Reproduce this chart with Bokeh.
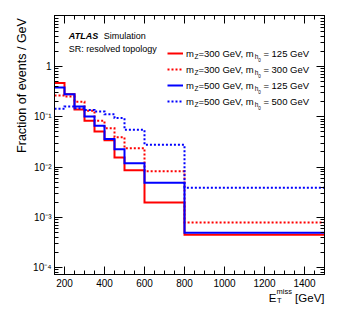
import math
from bokeh.plotting import figure
from bokeh.layouts import row, column
from bokeh.models import (Range1d, FixedTicker, LinearAxis, LogAxis, Label,
                          Legend, LegendItem)
from bokeh.embed import file_html
from bokeh.resources import INLINE

# ---------------- data ----------------
bin_edges = [150, 200, 250, 300, 350, 400, 450, 500, 600, 800, 1500]
frac_mz300_mh125 = [0.47, 0.28, 0.139, 0.083, 0.051, 0.034, 0.0154, 0.0086, 0.00197, 0.00045]
frac_mz300_mh300 = [0.265, 0.253, 0.20, 0.131, 0.083, 0.059, 0.039, 0.0237, 0.0082, 0.00079]
frac_mz500_mh125 = [0.38, 0.28, 0.16, 0.101, 0.066, 0.036, 0.0226, 0.0119, 0.00485, 0.00049]
frac_mz500_mh500 = [0.144, 0.16, 0.148, 0.137, 0.127, 0.112, 0.094, 0.055, 0.0277, 0.00385]

mz_values = ["300", "300", "500", "500"]
mh_values = ["125", "300", "125", "500"]
series_colors = ["#ff0000", "#ff0000", "#0000ff", "#0000ff"]
series_dash = ["solid", "2 2", "solid", "2 2"]
series_values = [frac_mz300_mh125, frac_mz300_mh300, frac_mz500_mh125, frac_mz500_mh500]

x_ticks = [200, 400, 600, 800, 1000, 1200, 1400]
y_ticks = [1e-4, 1e-3, 1e-2, 1e-1, 1]
y_tick_labels = ["10\u207b\u2074", "10\u207b\u00b3", "10\u207b\u00b2", "10\u207b\u00b9", "1"]

FONT = "Liberation Sans"

# Arial / Liberation Sans advance widths (per 1000 em)
W = {' ': 278, ',': 278, '=': 584, '0': 556, '1': 556, '2': 556, '3': 556, '4': 556,
     '5': 556, '6': 556, '7': 556, '8': 556, '9': 556, 'G': 778, 'e': 556, 'V': 667,
     'm': 833, 'Z': 611, 'h': 556, '[': 278, ']': 278, 'E': 667, 'T': 611, 'i': 222,
     's': 500}


def tw(s, size):
    return sum(W.get(c, 556) for c in s) * size / 1000.0


def no_frame_align(f):
    try:
        f.frame_align = False
    except AttributeError:
        pass


# ---------------- layout sizes ----------------
YF_W = 28          # left strip holding the y-axis title
P_W, P_H = 307, 292
XF_H, XF_OVER = 38, 10
TOTAL_H = P_H + XF_H - XF_OVER

p = figure(width=P_W, height=P_H,
           x_range=Range1d(150, 1500), y_range=Range1d(7.26e-5, 10.35),
           y_axis_type="log", output_backend="svg", toolbar_location=None,
           min_border_left=26, min_border_right=11, min_border_top=15, min_border_bottom=18)
no_frame_align(p)
p.xgrid.visible = False
p.ygrid.visible = False
p.outline_line_color = "black"
p.outline_line_width = 1
p.background_fill_color = "white"
p.border_fill_color = "white"

renderers = []
for vals, col, dash in zip(series_values, series_colors, series_dash):
    r = p.step(x=bin_edges, y=vals + [vals[-1]], mode="after", line_color=col,
               line_width=2, line_dash=dash, line_join="miter")
    renderers.append(r)

# ---------------- axes ----------------
x_minor = list(range(150, 1501, 50))
y_minor = [k * 10.0 ** d for d in range(-5, 2) for k in range(2, 10)]


def style_axis(ax, show_labels=True):
    ax.major_tick_in = 8
    ax.major_tick_out = 0
    ax.minor_tick_in = 4
    ax.minor_tick_out = 0
    ax.axis_line_color = "black"
    ax.major_tick_line_color = "black"
    ax.minor_tick_line_color = "black"
    ax.major_label_text_font = FONT
    if show_labels:
        ax.major_label_text_color = "black"
        ax.major_label_text_font_size = "10px"
    else:
        ax.major_label_text_color = None
        ax.major_label_text_font_size = "1px"
        ax.major_label_standoff = 0


p.xaxis.ticker = FixedTicker(ticks=x_ticks, minor_ticks=x_minor)
p.yaxis.ticker = FixedTicker(ticks=y_ticks, minor_ticks=y_minor)
style_axis(p.xaxis[0])
style_axis(p.yaxis[0])
p.xaxis.major_label_standoff = 4
p.yaxis.major_label_standoff = 3
p.yaxis.major_label_overrides = dict(zip(y_ticks, y_tick_labels))

top_axis = LinearAxis(ticker=FixedTicker(ticks=x_ticks, minor_ticks=x_minor))
style_axis(top_axis, False)
p.add_layout(top_axis, "above")
right_axis = LogAxis(ticker=FixedTicker(ticks=y_ticks, minor_ticks=y_minor))
style_axis(right_axis, False)
p.add_layout(right_axis, "right")


# ---------------- text helpers ----------------
def add_text(fig, x, y, text, size, style="normal", align="left", angle=0.0,
             baseline="alphabetic"):
    fig.add_layout(Label(x=x, y=y, x_units="screen", y_units="screen", text=text,
                         text_font=FONT, text_font_size=f"{size}px", text_font_style=style,
                         text_align=align, text_baseline=baseline, text_color="black",
                         angle=angle))


def add_pieces(fig, x, y, parts, baseline="alphabetic"):
    for text, size, dy in parts:
        stripped = text.lstrip(" ")
        x += tw(text[:len(text) - len(stripped)], size)
        add_text(fig, x, y + dy, stripped, size, baseline=baseline)
        x += tw(stripped, size)


def text_fig(w, h, margin=None):
    f = figure(width=w, height=h, x_range=Range1d(0, w), y_range=Range1d(0, h),
               output_backend="svg", toolbar_location=None, min_border=0,
               min_border_left=0, min_border_right=0, min_border_top=0,
               min_border_bottom=0,
               x_axis_location=None, y_axis_location=None,
               outline_line_color=None, background_fill_color=None,
               border_fill_color=None)
    no_frame_align(f)
    f.xgrid.visible = False
    f.ygrid.visible = False
    if margin is not None:
        f.margin = margin
    return f


# y-axis title strip (left): centred between page y 15 and 155, baseline side at x ~ 26
yfig = text_fig(YF_W, TOTAL_H)
add_text(yfig, 21.5, TOTAL_H - 85, "Fraction of events / GeV", 12.5, align="center",
         angle=math.pi / 2, baseline="middle")

# x-axis title strip (below, overlapping the tick-label band a little)
xfig = text_fig(P_W, XF_H, margin=(-XF_OVER, 0, 0, 0))
xt_size, xt_sub = 11.5, 7.5
xt_right = 296
xt_width = tw("E", xt_size) + tw("miss", xt_sub) + tw(" [GeV]", xt_size)
x0 = xt_right - xt_width
y_base = TOTAL_H - 297
add_text(xfig, x0, y_base, "E", xt_size)
x1 = x0 + tw("E", xt_size)
add_text(xfig, x1, y_base + 6.5, "miss", xt_sub)
add_text(xfig, x1 + 0.5, y_base - 2.5, "T", xt_sub)
add_text(xfig, x1 + tw("miss", xt_sub) + tw(" ", xt_size), y_base, "[GeV]", xt_size)

# ATLAS label (inside frame)
add_text(p, 14.3, 238.3, "ATLAS", 9, style="bold italic")
add_text(p, 49.3, 238.3, "Simulation", 9)
add_text(p, 14.3, 226, "SR: resolved topology", 9)

# ---------------- legend ----------------
LEG_SIZE = 9.5
items = [LegendItem(label="m", renderers=[r]) for r in renderers]
legend = Legend(items=items, location=(113, 165), orientation="vertical",
                glyph_width=16, glyph_height=16, label_height=16,
                spacing=0, padding=0, margin=0, border_line_color=None,
                background_fill_alpha=0, label_text_font=FONT,
                label_text_font_size=f"{LEG_SIZE}px", label_text_color="black",
                label_text_baseline="middle", label_standoff=3)
p.add_layout(legend)

for i, (mz, mh) in enumerate(zip(mz_values, mh_values)):
    yc = 221 - i * 16
    add_pieces(p, 132 + tw("m", LEG_SIZE), yc,
               [("Z", 6.5, -3.0), ("=" + mz + " GeV, m", LEG_SIZE, 0),
                ("h", 6.5, -3.0), ("0", 4.5, -6.0), (" = " + mh + " GeV", LEG_SIZE, 0)],
               baseline="middle")

layout = row(yfig, column(p, xfig))
open("out.html", "w").write(file_html(layout, INLINE))
